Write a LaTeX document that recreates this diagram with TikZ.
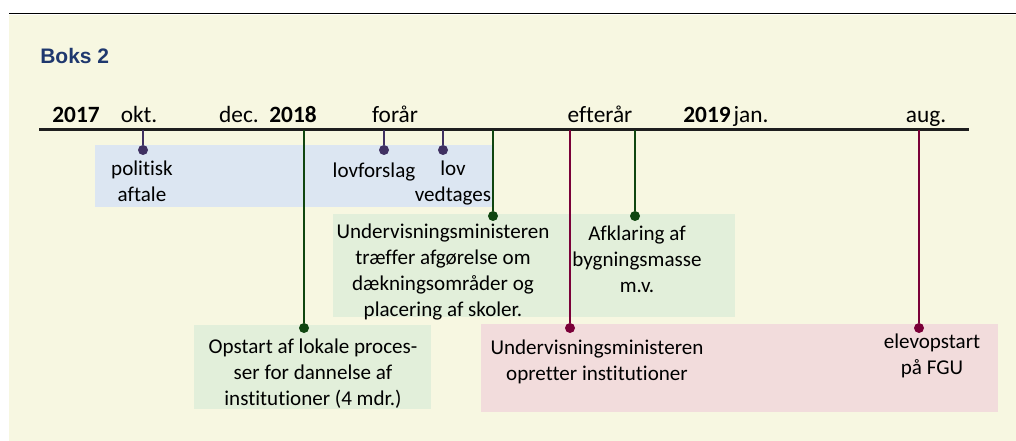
\documentclass[tikz,border=0pt]{standalone}
\usepackage{fontspec}
\setmainfont{Carlito}[Ligatures=NoCommon]
\newfontfamily\boksfont{Liberation Sans}
\usetikzlibrary{positioning}
\definecolor{cream}{RGB}{247,247,225}
\definecolor{lightblue}{RGB}{220,230,242}
\definecolor{lightgreen}{RGB}{226,239,218}
\definecolor{lightpink}{RGB}{242,220,220}
\definecolor{darkpurple}{RGB}{64,49,98}
\definecolor{darkgreen}{RGB}{16,70,16}
\definecolor{darkred}{RGB}{122,0,56}
\definecolor{boksblue}{RGB}{31,56,110}
\definecolor{axisgray}{RGB}{30,30,30}

\begin{document}
\begin{tikzpicture}[x=0.75pt,y=-0.75pt,
    evdot/.style={circle,inner sep=0pt,minimum size=7.5pt},
    yearlbl/.style={anchor=base,inner sep=0pt,font=\fontsize{17.5}{21}\selectfont\bfseries},
    monthlbl/.style={anchor=base,inner sep=0pt,font=\fontsize{17.5}{21}\selectfont},
    evtxt/.style={align=center,inner sep=0pt,font=\fontsize{15.8}{19.4}\selectfont}]
    % frame and background
    \useasboundingbox (0,0) rectangle (1016,441);
    \fill[white] (0,0) rectangle (1016,441);
    \fill[cream] (9,15) rectangle (1016,441);
    \draw[black,line width=0.75pt] (9,14) -- (1016,14);
    \node[anchor=base west,inner sep=0pt,text=boksblue,font=\boksfont\fontsize{15.75}{19}\selectfont\bfseries] (boks) at (40,64) {Boks 2};
    % coloured boxes
    \fill[lightblue] (95,145) rectangle (492,207);
    \fill[lightgreen] (333,214) rectangle (735,317);
    \fill[lightgreen] (194,325) rectangle (431,409);
    \fill[lightpink] (481,324) rectangle (998,412);
    % time axis
    \draw[axisgray,line width=1.6pt] (39,129.5) -- (969,129.5);
    \node[yearlbl] (y2017) at (76,123) {2017};
    \node[monthlbl] (okt) at (139,123) {okt.};
    \node[monthlbl] (dec) at (239,123) {dec.};
    \node[yearlbl] (y2018) at (293,123) {2018};
    \node[monthlbl] (foraar) at (395,123) {forår};
    \node[monthlbl] (efteraar) at (600,123) {efterår};
    \node[yearlbl] (y2019) at (707,123) {2019};
    \node[monthlbl] (jan) at (751,123) {jan.};
    \node[monthlbl] (aug) at (926,123) {aug.};
    % points on the axis
    \coordinate (a1) at (143,130.5);
    \coordinate (a2) at (384,130.5);
    \coordinate (a3) at (443,130.5);
    \coordinate (a4) at (304,130.5);
    \coordinate (a5) at (493,130.5);
    \coordinate (a6) at (635,130.5);
    \coordinate (a7) at (570,130.5);
    \coordinate (a8) at (919,130.5);
    % event dots
    \node[evdot,fill=darkpurple] (p1) at (143,150) {};
    \node[evdot,fill=darkpurple] (p2) at (384,150) {};
    \node[evdot,fill=darkpurple] (p3) at (443,150) {};
    \node[evdot,fill=darkgreen] (g1) at (304,328) {};
    \node[evdot,fill=darkgreen] (g2) at (493,216) {};
    \node[evdot,fill=darkgreen] (g3) at (635,216) {};
    \node[evdot,fill=darkred] (r1) at (570,328) {};
    \node[evdot,fill=darkred] (r2) at (919,328) {};
    \draw[darkpurple,line width=1.5pt] (a1) -- (p1);
    \draw[darkpurple,line width=1.5pt] (a2) -- (p2);
    \draw[darkpurple,line width=1.5pt] (a3) -- (p3);
    \draw[darkgreen,line width=1.5pt] (a4) -- (g1);
    \draw[darkgreen,line width=1.5pt] (a5) -- (g2);
    \draw[darkgreen,line width=1.5pt] (a6) -- (g3);
    \draw[darkred,line width=1.5pt] (a7) -- (r1);
    \draw[darkred,line width=1.5pt] (a8) -- (r2);
    % event texts
    \node[evtxt] (aftale) at (142,181) {politisk\\aftale};
    \node[evtxt] (forslag) at (374,172) {lovforslag};
    \node[evtxt] (vedtaget) at (453,183) {lov\\vedtages};
    \node[evtxt] (afgoer) at (443,272) {Undervisningsministeren\\træffer afgørelse om\\dækningsområder og\\placering af skoler.};
    \node[evtxt] (bygning) at (637,259) {Afklaring af\\bygningsmasse\\m.v.};
    \node[evtxt] (opstart) at (313,374) {Opstart af lokale proces-\\ser for dannelse af\\institutioner (4 mdr.)};
    \node[evtxt] (opretter) at (597,362) {Undervisningsministeren\\opretter institutioner};
    \node[evtxt] (elev) at (932,356) {elevopstart\\på FGU};
\end{tikzpicture}
\end{document}
